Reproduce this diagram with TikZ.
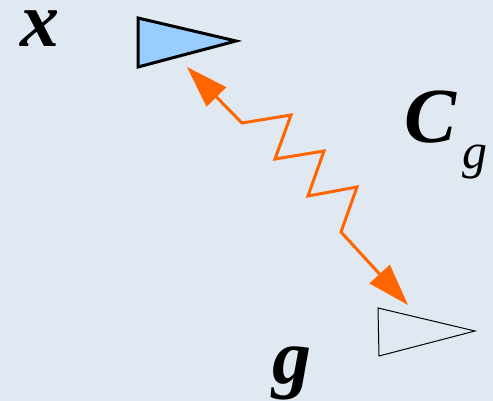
\documentclass[tikz,border=0pt]{standalone}
\usepackage{fontspec}
\setmainfont{Liberation Serif}
\usetikzlibrary{arrows.meta}
\definecolor{bgc}{RGB}{224,232,242}
\definecolor{fillblue}{RGB}{153,204,255}
\definecolor{zigorange}{RGB}{255,102,0}
\tikzset{
  biglabel/.style={inner sep=0pt, anchor=base west, font=\fontsize{78}{78}\selectfont\bfseries\itshape},
  sublabel/.style={inner sep=0pt, anchor=base west, font=\fontsize{50}{50}\selectfont\itshape},
  zig/.style={draw=zigorange, line width=3pt, line join=miter, {Triangle[length=42pt,width=27pt]}-{Triangle[length=42pt,width=27pt]}},
}
\begin{document}
\begin{tikzpicture}[x=1pt,y=-1pt]
\fill[bgc] (0,0) rectangle (493,401);
\useasboundingbox (0,0) rectangle (493,401);
% triangles
\draw[fill=fillblue, line width=3pt, line join=miter] (138,18) -- (236,41) -- (138,67) -- cycle;
\draw[line width=1pt] (378,308) -- (475,331) -- (379,356) -- cycle;
% connector ends
\coordinate (xend) at (187,67);
\coordinate (gend) at (408,305);
\draw[zig] (xend) -- (242,123) -- (291,115) -- (275,159) -- (324,151) -- (308,196) -- (357,187) -- (341,232) -- (gend);
% labels
\node[biglabel] (lx) at (20,47) {x};
\node[biglabel] (lC) at (404,143) {C};
\node[sublabel] (lsub) at (462,168) {g};
\node[biglabel] (lg) at (272,383) {g};
\end{tikzpicture}
\end{document}
